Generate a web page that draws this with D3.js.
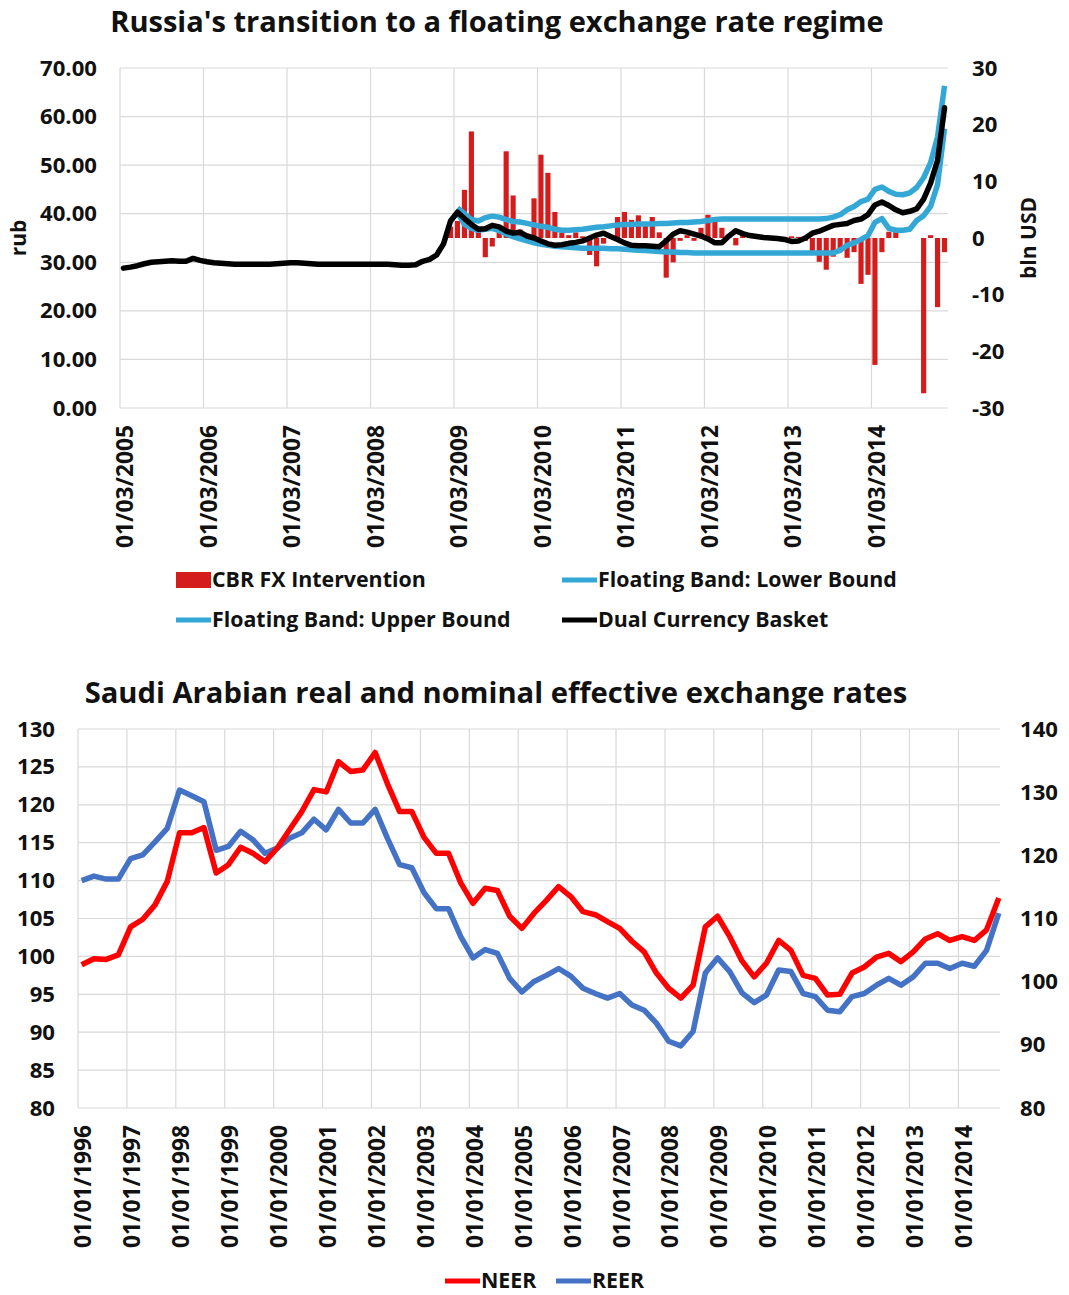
<!DOCTYPE html>
<html>
<head>
<meta charset="utf-8">
<script src="https://cdn.jsdelivr.net/npm/d3@7"></script>
<style>
  body { margin: 0; background: #fff; }
  svg text { font-family: "Open Sans", sans-serif; font-weight: 700; fill: #111; }
</style>
</head>
<body>
<svg id="chart" width="1069" height="1295"></svg>
<script>
// ---------- top chart: monthly, index 0 = Mar 2005 ----------
var rubTicks = [0, 10, 20, 30, 40, 50, 60, 70];
var usdTicks = [-30, -20, -10, 0, 10, 20, 30];
var topDateLabels = ["01/03/2005", "01/03/2006", "01/03/2007", "01/03/2008", "01/03/2009",
  "01/03/2010", "01/03/2011", "01/03/2012", "01/03/2013", "01/03/2014"];

// dual currency basket, rub (Mar 2005 .. Jan 2015)
var basket = [28.8, 29.0, 29.3, 29.7, 30.0, 30.1, 30.2, 30.3, 30.2, 30.2,
  30.8, 30.4, 30.1, 29.9, 29.8, 29.7, 29.6, 29.6, 29.6, 29.6,
  29.6, 29.6, 29.7, 29.8, 29.9, 29.9, 29.8, 29.7, 29.6, 29.6,
  29.6, 29.6, 29.6, 29.6, 29.6, 29.6, 29.6, 29.6, 29.6, 29.5,
  29.4, 29.4, 29.5, 30.2, 30.6, 31.5, 33.8, 38.5, 40.3, 39.0,
  37.8, 36.8, 36.9, 37.6, 37.3, 36.4, 36.0, 36.2, 35.4, 35.0,
  34.4, 33.8, 33.5, 33.6, 33.9, 34.1, 34.4, 35.0, 35.6, 36.0,
  35.3, 34.7, 34.0, 33.5, 33.4, 33.4, 33.3, 33.2, 34.4, 35.8,
  36.5, 36.2, 35.8, 35.4, 34.8, 34.0, 34.0, 35.4, 36.5, 35.9,
  35.5, 35.3, 35.1, 35.0, 34.9, 34.7, 34.3, 34.4, 35.0, 36.0,
  36.4, 37.0, 37.6, 37.8, 38.0, 38.6, 38.9, 39.8, 41.8, 42.4,
  41.7, 40.8, 40.2, 40.5, 41.0, 43.0, 46.3, 51.0, 61.8];

// floating band, starts Mar 2009 (index 48)
var bandStart = 48;
var upperBand = [41.2, 40.0, 38.8, 38.5, 39.2, 39.5, 39.3, 38.8, 38.4, 38.3,
  38.0, 37.7, 37.4, 37.2, 36.8, 36.6, 36.6, 36.7, 36.8, 37.0,
  37.2, 37.3, 37.5, 37.7, 37.8, 37.8, 37.9, 37.9, 37.9, 38.0,
  38.0, 38.1, 38.2, 38.2, 38.3, 38.4, 38.6, 38.8, 38.9, 38.9,
  38.9, 38.9, 38.9, 38.9, 38.9, 38.9, 38.9, 38.9, 38.9, 38.9,
  38.9, 38.9, 38.9, 39.0, 39.3, 39.8, 40.8, 41.5, 42.5, 43.0,
  45.0, 45.5, 44.6, 44.0, 43.9, 44.3, 45.4, 47.4, 50.5, 55.8,
  66.3];
var lowerBand = [40.2, 37.8, 37.0, 36.6, 36.8, 37.0, 36.5, 35.8, 35.3, 34.8,
  34.4, 34.0, 33.7, 33.5, 33.3, 33.2, 33.1, 33.0, 32.9, 32.9,
  32.9, 32.9, 32.8, 32.8, 32.7, 32.6, 32.5, 32.4, 32.3, 32.2,
  32.1, 32.1, 32.0, 32.0, 31.9, 31.9, 31.9, 31.9, 31.9, 31.9,
  31.9, 31.9, 31.9, 31.9, 31.9, 31.9, 31.9, 31.9, 31.9, 31.9,
  31.9, 31.9, 31.9, 31.9, 31.9, 32.5, 33.5, 34.0, 34.7, 35.5,
  38.2, 39.0, 37.0, 36.6, 36.6, 36.8, 38.6, 39.6, 41.5, 46.0,
  57.5];

// CBR FX intervention, bln USD, starts Feb 2009 (index 47)
var fxStart = 47;
var fxIntervention = [2.0, 3.0, 8.5, 18.8, 2.0, -3.4, -1.5, 1.0, 15.3, 7.5,
  1.5, 0.8, 7.0, 14.7, 11.5, 4.6, 1.0, 0.5, 1.0, 0.3,
  -3.0, -5.0, -1.0, 0.5, 3.7, 4.6, 3.2, 4.0, 2.6, 3.7,
  1.0, -7.0, -4.3, -0.5, 0.5, -0.5, 1.8, 4.1, 3.5, 1.8,
  0.5, -1.3, 0.5, 0.3, 0.5, 0.4, 0.3, 0.2, 0.2, 0.3,
  0.2, -0.5, -2.5, -4.2, -5.6, -3.3, -2.5, -3.5, -2.5, -8.1,
  -6.5, -22.4, -2.5, 1.1, 1.1, 0, 0, 0, -27.4, 0.5,
  -12.2, -2.5];

// ---------- bottom chart: quarterly, index 0 = 1996Q1 ----------
var leftIdxTicks = [80, 85, 90, 95, 100, 105, 110, 115, 120, 125, 130];
var rightIdxTicks = [80, 90, 100, 110, 120, 130, 140];
var bottomDateLabels = ["01/01/1996", "01/01/1997", "01/01/1998", "01/01/1999", "01/01/2000",
  "01/01/2001", "01/01/2002", "01/01/2003", "01/01/2004", "01/01/2005", "01/01/2006",
  "01/01/2007", "01/01/2008", "01/01/2009", "01/01/2010", "01/01/2011", "01/01/2012",
  "01/01/2013", "01/01/2014"];

var neer = [98.9, 99.7, 99.6, 100.2, 103.9, 104.9, 106.8, 109.9, 116.3, 116.3,
  117.0, 111.0, 112.1, 114.4, 113.6, 112.5, 114.3, 116.7, 119.1, 122.0,
  121.7, 125.7, 124.4, 124.6, 126.9, 122.8, 119.1, 119.1, 115.7, 113.6,
  113.6, 109.7, 107.0, 109.0, 108.7, 105.3, 103.7, 105.7, 107.4, 109.2,
  107.9, 105.9, 105.5, 104.6, 103.7, 102.0, 100.6, 97.8, 95.8, 94.5,
  96.2, 103.9, 105.3, 102.6, 99.4, 97.3, 99.1, 102.1, 100.8, 97.5,
  97.1, 94.9, 95.0, 97.8, 98.6, 99.9, 100.4, 99.3, 100.6, 102.3,
  103.0, 102.1, 102.6, 102.1, 103.5, 107.7];
var reer = [110.0, 110.6, 110.2, 110.2, 112.9, 113.4, 115.1, 116.9, 121.95, 121.2,
  120.4, 114.0, 114.5, 116.5, 115.4, 113.6, 114.3, 115.6, 116.3, 118.1,
  116.7, 119.4, 117.6, 117.6, 119.4, 115.6, 112.1, 111.7, 108.4, 106.3,
  106.3, 102.6, 99.8, 100.9, 100.4, 97.1, 95.3, 96.7, 97.5, 98.4,
  97.4, 95.8, 95.1, 94.5, 95.1, 93.6, 92.9, 91.2, 88.8, 88.2,
  90.1, 97.8, 99.8, 98.0, 95.2, 93.9, 94.9, 98.2, 98.0, 95.1,
  94.7, 92.9, 92.7, 94.7, 95.1, 96.2, 97.1, 96.2, 97.3, 99.1,
  99.1, 98.4, 99.1, 98.7, 100.8, 105.7];

var svg = d3.select('#chart');
var gridColor = '#d9d9d9';
var plain = function(d) { return String(d); };  // hyphen minus like the original

// font size that makes a string a given width
function sizeFor(str, width) {
  var t = svg.append('text').attr('font-size', 100).text(str);
  var w = t.node().getComputedTextLength();
  t.remove();
  return 100 * width / w;
}

var yTickSize = sizeFor('70.00', 57);
var xTickSize = sizeFor('01/03/2005', 123);
var legendSize = sizeFor('Floating Band: Lower Bound', 299);

function gridAndLabels(g, x, y, xTicks, xLabels, yTicks, yFormat, left, right, top, bottom) {
  // horizontal grid
  g.append('g').selectAll('line').data(yTicks).enter().append('line')
    .attr('x1', left).attr('x2', right)
    .attr('y1', function(d) { return y(d); }).attr('y2', function(d) { return y(d); })
    .attr('stroke', gridColor).attr('stroke-width', 1.2);
  // vertical grid
  g.append('g').selectAll('line').data(xTicks).enter().append('line')
    .attr('x1', function(d) { return x(d); }).attr('x2', function(d) { return x(d); })
    .attr('y1', top).attr('y2', bottom)
    .attr('stroke', gridColor).attr('stroke-width', 1.2);

  // x axis labels, rotated
  var xa = g.append('g').attr('transform', 'translate(0,' + bottom + ')')
    .call(d3.axisBottom(x).tickValues(xTicks).tickSize(0)
      .tickFormat(function(d, i) { return xLabels[i]; }));
  xa.select('.domain').remove();
  xa.selectAll('text')
    .attr('font-family', null).attr('fill', null)
    .attr('font-size', xTickSize)
    .attr('transform', 'rotate(-90)')
    .attr('x', -17).attr('y', 5).attr('dy', '0.35em')
    .style('text-anchor', 'end');

  var ya = g.append('g').attr('transform', 'translate(' + left + ',0)')
    .call(d3.axisLeft(y).tickValues(yTicks).tickSize(0).tickPadding(23).tickFormat(yFormat));
  ya.select('.domain').remove();
  ya.selectAll('text').attr('font-family', null).attr('fill', null).attr('font-size', yTickSize);
}

// ================= TOP CHART =================
var t = svg.append('g');
var tx = d3.scaleLinear().domain([0, 119]).range([120, 948]);
var tyL = d3.scaleLinear().domain([0, 70]).range([408, 68]);
var tyR = d3.scaleLinear().domain([-30, 30]).range([408, 68]);
var topTicks = d3.range(0, 109, 12);

gridAndLabels(t, tx, tyL, topTicks, topDateLabels, rubTicks, d3.format('.2f'), 120, 948, 68, 408);

var ra = t.append('g').attr('transform', 'translate(948,0)')
  .call(d3.axisRight(tyR).tickValues(usdTicks).tickSize(0).tickPadding(24).tickFormat(plain));
ra.select('.domain').remove();
ra.selectAll('text').attr('font-family', null).attr('fill', null).attr('font-size', yTickSize);

// bars
t.append('g').selectAll('rect').data(fxIntervention).enter().append('rect')
  .attr('x', function(d, i) { return tx(fxStart + i + 0.13); })
  .attr('width', tx(0.74) - tx(0))
  .attr('y', function(d) { return tyR(Math.max(0, d)); })
  .attr('height', function(d) { return Math.abs(tyR(d) - tyR(0)); })
  .attr('fill', '#d41c1c');

var bandColor = '#33a8d6';
var topLine = function(start) {
  return d3.line().x(function(d, i) { return tx(start + i + 0.5); }).y(function(d) { return tyL(d); });
};
t.append('path').datum(lowerBand).attr('d', topLine(bandStart))
  .attr('fill', 'none').attr('stroke', bandColor).attr('stroke-width', 5.5).attr('stroke-linejoin', 'round');
t.append('path').datum(upperBand).attr('d', topLine(bandStart))
  .attr('fill', 'none').attr('stroke', bandColor).attr('stroke-width', 5.5).attr('stroke-linejoin', 'round');
t.append('path').datum(basket).attr('d', topLine(0))
  .attr('fill', 'none').attr('stroke', '#000').attr('stroke-width', 5.5).attr('stroke-linejoin', 'round')
  .attr('stroke-linecap', 'round');

// titles / axis names
t.append('text').attr('x', 497).attr('y', 32).attr('text-anchor', 'middle')
  .attr('font-size', sizeFor("Russia's transition to a floating exchange rate regime", 774))
  .text("Russia's transition to a floating exchange rate regime");
t.append('text').attr('transform', 'translate(26,238) rotate(-90)').attr('text-anchor', 'middle')
  .attr('font-size', yTickSize * 0.95).text('rub');
t.append('text').attr('transform', 'translate(1036,238) rotate(-90)').attr('text-anchor', 'middle')
  .attr('font-size', yTickSize * 0.95).text('bln USD');

// legend
var topLegend = [
  { name: 'CBR FX Intervention', x: 176, y: 580, type: 'bar', color: '#d41c1c' },
  { name: 'Floating Band: Lower Bound', x: 562, y: 580, type: 'line', color: bandColor },
  { name: 'Floating Band: Upper Bound', x: 176, y: 620, type: 'line', color: bandColor },
  { name: 'Dual Currency Basket', x: 562, y: 620, type: 'line', color: '#000' }
];
var tl = t.append('g').selectAll('g').data(topLegend).enter().append('g')
  .attr('transform', function(d) { return 'translate(' + d.x + ',' + d.y + ')'; });
tl.filter(function(d) { return d.type === 'bar'; }).append('rect')
  .attr('x', 0).attr('y', -8).attr('width', 35).attr('height', 16).attr('fill', function(d) { return d.color; });
tl.filter(function(d) { return d.type === 'line'; }).append('line')
  .attr('x1', 0).attr('x2', 35).attr('y1', 0).attr('y2', 0)
  .attr('stroke', function(d) { return d.color; }).attr('stroke-width', 5);
tl.append('text').attr('x', 36).attr('dy', '0.35em').attr('font-size', legendSize)
  .text(function(d) { return d.name; });

// ================= BOTTOM CHART =================
var b = svg.append('g');
var bx = d3.scaleLinear().domain([0, 75.4]).range([78, 1000]);
var byL = d3.scaleLinear().domain([80, 130]).range([1108, 729]);
var byR = d3.scaleLinear().domain([80, 140]).range([1108, 729]);
var bottomTicks = d3.range(0, 73, 4);

gridAndLabels(b, bx, byL, bottomTicks, bottomDateLabels, leftIdxTicks, plain, 78, 1000, 729, 1108);

var rb = b.append('g').attr('transform', 'translate(1000,0)')
  .call(d3.axisRight(byR).tickValues(rightIdxTicks).tickSize(0).tickPadding(20).tickFormat(plain));
rb.select('.domain').remove();
rb.selectAll('text').attr('font-family', null).attr('fill', null).attr('font-size', yTickSize);

var bLine = d3.line().x(function(d, i) { return bx(i + 0.3); }).y(function(d) { return byL(d); });
b.append('path').datum(reer).attr('d', bLine)
  .attr('fill', 'none').attr('stroke', '#4472c4').attr('stroke-width', 5.5).attr('stroke-linejoin', 'round');
b.append('path').datum(neer).attr('d', bLine)
  .attr('fill', 'none').attr('stroke', '#ff0000').attr('stroke-width', 5.5).attr('stroke-linejoin', 'round');

b.append('text').attr('x', 496).attr('y', 703).attr('text-anchor', 'middle')
  .attr('font-size', sizeFor('Saudi Arabian real and nominal effective exchange rates', 823))
  .text('Saudi Arabian real and nominal effective exchange rates');

var bottomLegend = [
  { name: 'NEER', x: 445, color: '#ff0000' },
  { name: 'REER', x: 556, color: '#4472c4' }
];
var bl = b.append('g').selectAll('g').data(bottomLegend).enter().append('g')
  .attr('transform', function(d) { return 'translate(' + d.x + ',1281)'; });
bl.append('line').attr('x1', 0).attr('x2', 35).attr('y1', 0).attr('y2', 0)
  .attr('stroke', function(d) { return d.color; }).attr('stroke-width', 5);
bl.append('text').attr('x', 36).attr('dy', '0.35em').attr('font-size', legendSize)
  .text(function(d) { return d.name; });
</script>
</body>
</html>
